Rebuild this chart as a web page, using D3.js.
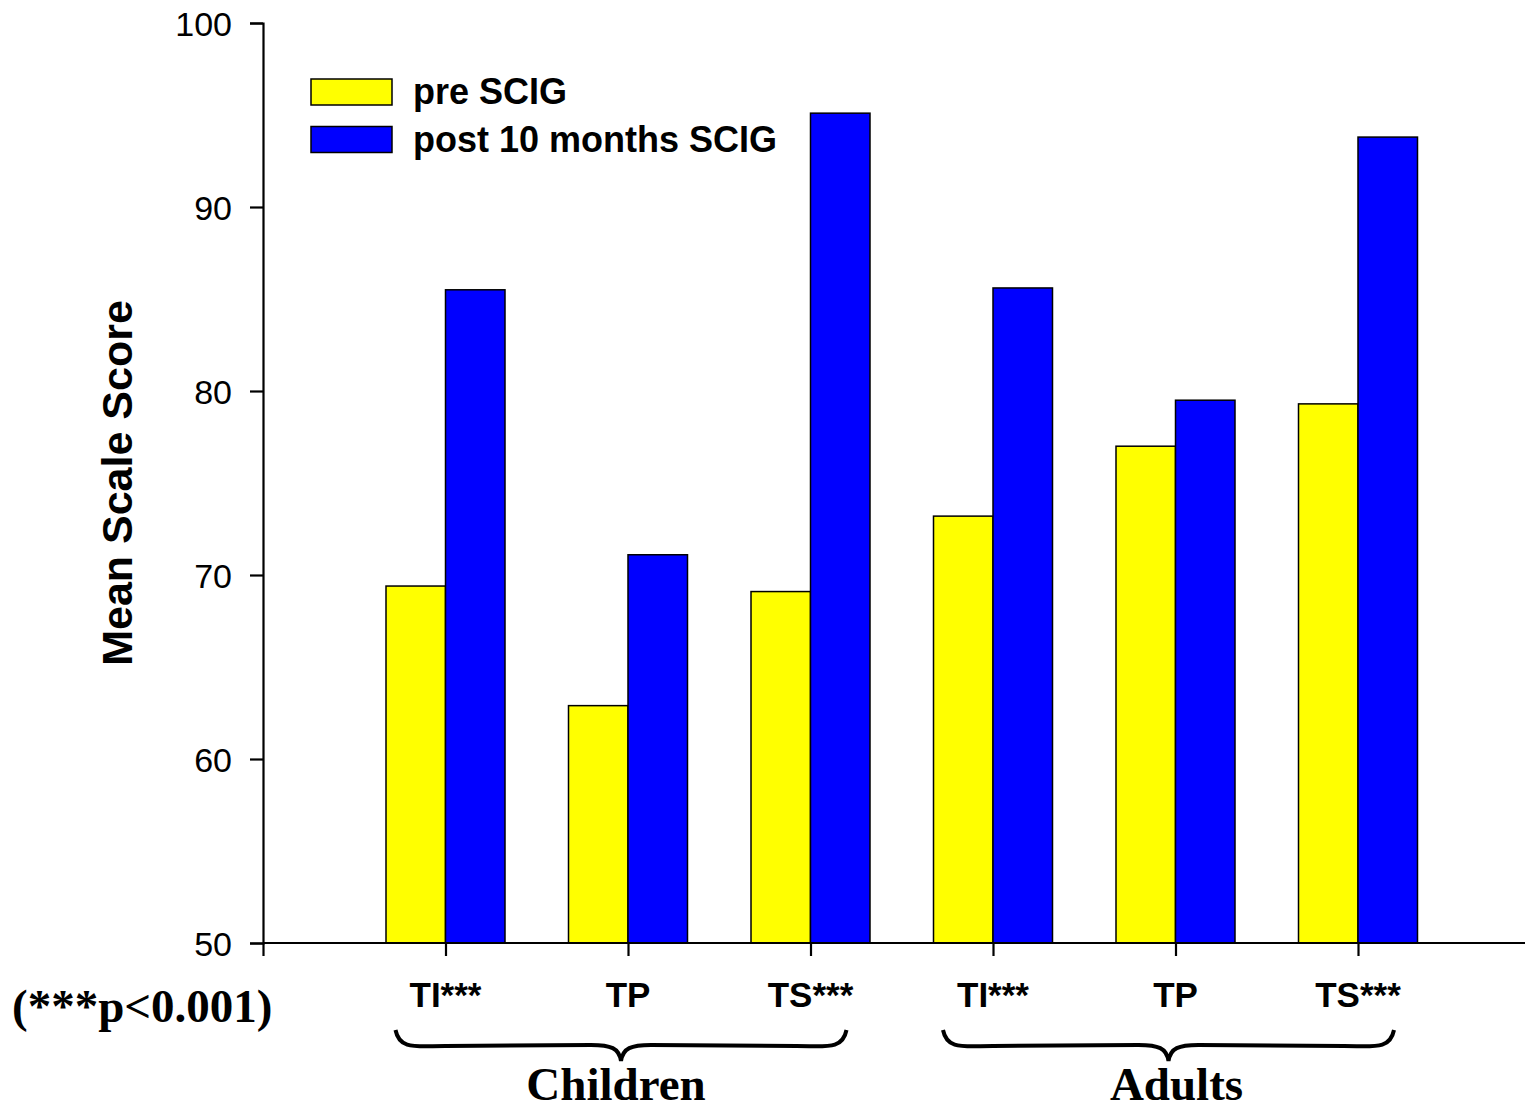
<!DOCTYPE html>
<html>
<head>
<meta charset="utf-8">
<script src="https://cdn.jsdelivr.net/npm/d3@7"></script>
<style>
  body { margin: 0; background: #fff; }
  svg { display: block; }
</style>
</head>
<body>
<div id="chart"></div>
<script>
// categories, series values and tick labels
const categories = ["TI***", "TP", "TS***", "TI***", "TP", "TS***"];
const preSCIG = [69.4, 62.9, 69.1, 73.2, 77.0, 79.3];
const post10m = [85.5, 71.1, 95.1, 85.6, 79.5, 93.8];
const yTicks = [50, 60, 70, 80, 90, 100];
const groups = [{ name: "Children", from: 0, to: 2, shift: -5 }, { name: "Adults", from: 3, to: 5, shift: 8 }];
const seriesNames = ["pre SCIG", "post 10 months SCIG"];
const seriesColors = ["#ffff00", "#0000ff"];

const W = 1525, H = 1108;
const svg = d3.select("#chart").append("svg")
  .attr("width", W).attr("height", H);

const x = d3.scaleLinear().domain([0, 7]).range([263, 263 + 182.5 * 7]);
const y = d3.scaleLinear().domain([50, 100]).range([943, 23]);
const barW = 59.5;

// bars
const data = categories.map((c, i) => ({ i, pre: preSCIG[i], post: post10m[i] }));
const bars = svg.append("g");
bars.selectAll(".pre").data(data).enter().append("rect")
  .attr("x", d => x(d.i + 1) - barW)
  .attr("y", d => y(d.pre))
  .attr("width", barW)
  .attr("height", d => y(50) - y(d.pre))
  .attr("fill", seriesColors[0]).attr("stroke", "#000").attr("stroke-width", 1.5);
bars.selectAll(".post").data(data).enter().append("rect")
  .attr("x", d => x(d.i + 1))
  .attr("y", d => y(d.post))
  .attr("width", barW)
  .attr("height", d => y(50) - y(d.post))
  .attr("fill", seriesColors[1]).attr("stroke", "#000").attr("stroke-width", 1.5);

// y axis
const yAxis = svg.append("g")
  .attr("transform", `translate(${x(0)},0)`)
  .call(d3.axisLeft(y).tickValues(yTicks).tickSize(13).tickPadding(18).tickFormat(d3.format("d")));
yAxis.select(".domain").attr("stroke-width", 2.2);
yAxis.selectAll(".tick line").attr("stroke-width", 2.2);
yAxis.selectAll("text").attr("font-family", "Liberation Sans, Arial, sans-serif")
  .attr("font-size", 34).attr("fill", "#000").attr("dy", "0.36em");

// x axis
const xAxis = svg.append("g")
  .attr("transform", `translate(0,${y(50)})`)
  .call(d3.axisBottom(x).tickValues([0, 1, 2, 3, 4, 5, 6]).tickSize(13).tickFormat(""));
xAxis.select(".domain").attr("stroke-width", 2.2).attr("d", `M${x(0)},0H${W}`);
xAxis.selectAll(".tick line").attr("stroke-width", 2.2);

// category labels
svg.append("g").selectAll("text").data(categories).enter().append("text")
  .attr("x", (d, i) => x(i + 1))
  .attr("y", 1007)
  .attr("text-anchor", "middle")
  .attr("font-family", "Liberation Sans, Arial, sans-serif")
  .attr("font-weight", "bold").attr("font-size", 35)
  .text(d => d);

// braces and group labels
function bracePath(x0, x1, top, depth) {
  const mid = (x0 + x1) / 2;
  const bot = top + depth;
  return `M${x0},${top} C${x0 + 4},${bot + 2} ${x0 + 20},${bot - 2} ${x0 + 50},${bot - 2}` +
    ` L${mid - 30},${bot - 3} C${mid - 10},${bot - 3} ${mid - 2},${bot} ${mid},${bot + 13}` +
    ` C${mid + 2},${bot} ${mid + 10},${bot - 3} ${mid + 30},${bot - 3}` +
    ` L${x1 - 50},${bot - 2} C${x1 - 20},${bot - 2} ${x1 - 4},${bot + 2} ${x1},${top}`;
}
groups.forEach(g => {
  const x0 = x(g.from + 1) - 50, x1 = x(g.to + 1) + 36;
  svg.append("path")
    .attr("d", bracePath(x0, x1, 1030, 18))
    .attr("fill", "none").attr("stroke", "#000").attr("stroke-width", 4);
  svg.append("text")
    .attr("x", (x0 + x1) / 2 + g.shift)
    .attr("y", 1100)
    .attr("text-anchor", "middle")
    .attr("font-family", "Liberation Serif, Times New Roman, serif")
    .attr("font-weight", "bold").attr("font-size", 47)
    .text(g.name);
});

svg.append("text")
  .attr("x", 12).attr("y", 1022)
  .attr("font-family", "Liberation Serif, Times New Roman, serif")
  .attr("font-weight", "bold").attr("font-size", 47)
  .text("(***p<0.001)");

// y title
svg.append("text")
  .attr("transform", "translate(132,483) rotate(-90)")
  .attr("text-anchor", "middle")
  .attr("font-family", "Liberation Sans, Arial, sans-serif")
  .attr("font-weight", "bold").attr("font-size", 43)
  .text("Mean Scale Score");

// legend
const legend = svg.append("g");
seriesNames.forEach((s, i) => {
  legend.append("rect")
    .attr("x", 311).attr("y", 79 + i * 47.5)
    .attr("width", 81).attr("height", 26)
    .attr("fill", seriesColors[i]).attr("stroke", "#000").attr("stroke-width", 1.5);
  legend.append("text")
    .attr("x", 413).attr("y", 104 + i * 47.5)
    .attr("font-family", "Liberation Sans, Arial, sans-serif")
    .attr("font-weight", "bold").attr("font-size", 36)
    .text(s);
});
</script>
</body>
</html>
